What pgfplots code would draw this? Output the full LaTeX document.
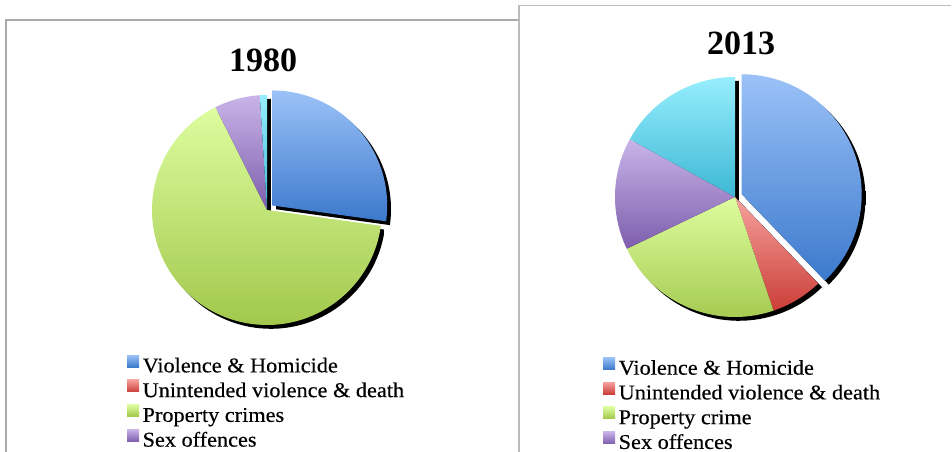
\documentclass[border=0pt]{standalone}
\usepackage{fontspec}
\setmainfont{Liberation Serif}
\newfontfamily\legfont{Liberation Serif}[FakeStretch=1.06,FakeBold=0.3]
\usepackage{pgfplots}
\pgfplotsset{compat=1.18}

\definecolor{vhT}{HTML}{9BC2F8}\definecolor{vhB}{HTML}{3C79CC}
\definecolor{uvT}{HTML}{F6A19D}\definecolor{uvB}{HTML}{CB3E38}
\definecolor{prT}{HTML}{DDFD9F}\definecolor{prB}{HTML}{A0C64A}
\definecolor{sxT}{HTML}{C8B4E8}\definecolor{sxB}{HTML}{7E5EAD}
\definecolor{otT}{HTML}{97EEFD}\definecolor{otB}{HTML}{3DB8D5}
\definecolor{frame}{HTML}{AAAAAA}

% #1 start (cumulative %), #2 end (cumulative %), #3 top colour, #4 bottom colour,
% #5 explode distance (axis units), #6 radius, #7 extra options
\newcommand\slice[7]{%
  \pgfmathsetmacro\aS{90-3.6*(#1)}%
  \pgfmathsetmacro\aE{90-3.6*(#2)}%
  \pgfmathsetmacro\aM{(\aS+\aE)/2}%
  \pgfmathsetmacro\dx{#5*cos(\aM)}%
  \pgfmathsetmacro\dy{#5*sin(\aM)}%
  \pgfmathsetmacro\px{\dx+cos(\aS)}%
  \pgfmathsetmacro\py{\dy+sin(\aS)}%
  \shade[#7, top color=#3, bottom color=#4] (axis cs:\dx,\dy) -- (axis cs:\px,\py)
     arc[start angle=\aS, end angle=\aE, radius=#6] -- cycle;}

\newcommand\legimg[2]{\addlegendimage{legend image code/.code={\shade[draw=none,top color=#1,bottom color=#2] (0bp,0bp) rectangle (12bp,12bp);}}}

\pgfplotsset{pie/.style={hide axis, scale only axis, clip=false,
  xmin=-1, xmax=1, ymin=-1, ymax=1, anchor=center,
  legend style={draw=none, fill=none, inner sep=0pt, anchor=north west,
    font=\legfont\fontsize{21bp}{24bp}\selectfont,
    column sep=3.5bp, row sep=4bp,
    nodes={inner sep=0pt, text height=14bp, text depth=3.5bp}},
  legend cell align=left}}

\begin{document}
\begin{tikzpicture}[x=1bp, y=1bp]
\useasboundingbox (0,0) rectangle (952,452);
\clip (0,0) rectangle (952,452);
% frames
\draw[frame, line width=1.2bp] (6,-10) -- (6,432) -- (530,432);
\fill[white] (519,-10) rectangle (960,446.5);
\draw[frame!80, line width=1.2bp] (519,-10) -- (519,446.5) -- (951,446.5);

% titles
\node[anchor=base, font=\bfseries\fontsize{34bp}{40bp}\selectfont] at (263,380) {1980};
\node[anchor=base, font=\bfseries\fontsize{34bp}{40bp}\selectfont] at (741,397) {2013};

% 1980
\begin{axis}[pie, at={(267bp,242bp)}, width=230bp, height=230bp,
  legend style={at={(axis cs:-1.218,-1.26)}}]
\pgfplotsextra{%
  % shadow
  \slice{0}{27.2}{black}{black}{0.06}{115bp}{xshift=3.8bp,yshift=-3.8bp}
  \slice{27.2}{100}{black}{black}{0}{115bp}{xshift=3.8bp,yshift=-3.8bp}
  % slices
  \slice{27.2}{27.2+65.4}{prT}{prB}{0}{115bp}{}
  \slice{92.6}{92.6+6.4}{sxT}{sxB}{0}{115bp}{}
  \slice{99.0}{99.0+1.0}{otT}{otB}{0}{115bp}{}
  \slice{0}{27.2}{vhT}{vhB}{0.06}{115bp}{}
}
\legimg{vhT}{vhB}\addlegendentry{Violence \& Homicide}
\legimg{uvT}{uvB}\addlegendentry{Unintended violence \& death}
\legimg{prT}{prB}\addlegendentry{Property crimes}
\legimg{sxT}{sxB}\addlegendentry{Sex offences}
\end{axis}

% 2013
\begin{axis}[pie, at={(735bp,255bp)}, width=240bp, height=240bp,
  legend style={at={(axis cs:-1.1,-1.335)}}]
\pgfplotsextra{%
  \slice{0}{37.8}{black}{black}{0.06}{120bp}{xshift=3.8bp,yshift=-3.8bp}
  \slice{37.8}{100}{black}{black}{0}{120bp}{xshift=3.8bp,yshift=-3.8bp}
  \slice{37.8}{37.8+7.0}{uvT}{uvB}{0}{120bp}{}
  \slice{44.8}{44.8+23.1}{prT}{prB}{0}{120bp}{}
  \slice{67.9}{67.9+15.1}{sxT}{sxB}{0}{120bp}{}
  \slice{83.0}{83.0+17.0}{otT}{otB}{0}{120bp}{}
  \slice{0}{37.8}{vhT}{vhB}{0.06}{120bp}{}
}
\legimg{vhT}{vhB}\addlegendentry{Violence \& Homicide}
\legimg{uvT}{uvB}\addlegendentry{Unintended violence \& death}
\legimg{prT}{prB}\addlegendentry{Property crime}
\legimg{sxT}{sxB}\addlegendentry{Sex offences}
\end{axis}
\end{tikzpicture}
\end{document}
